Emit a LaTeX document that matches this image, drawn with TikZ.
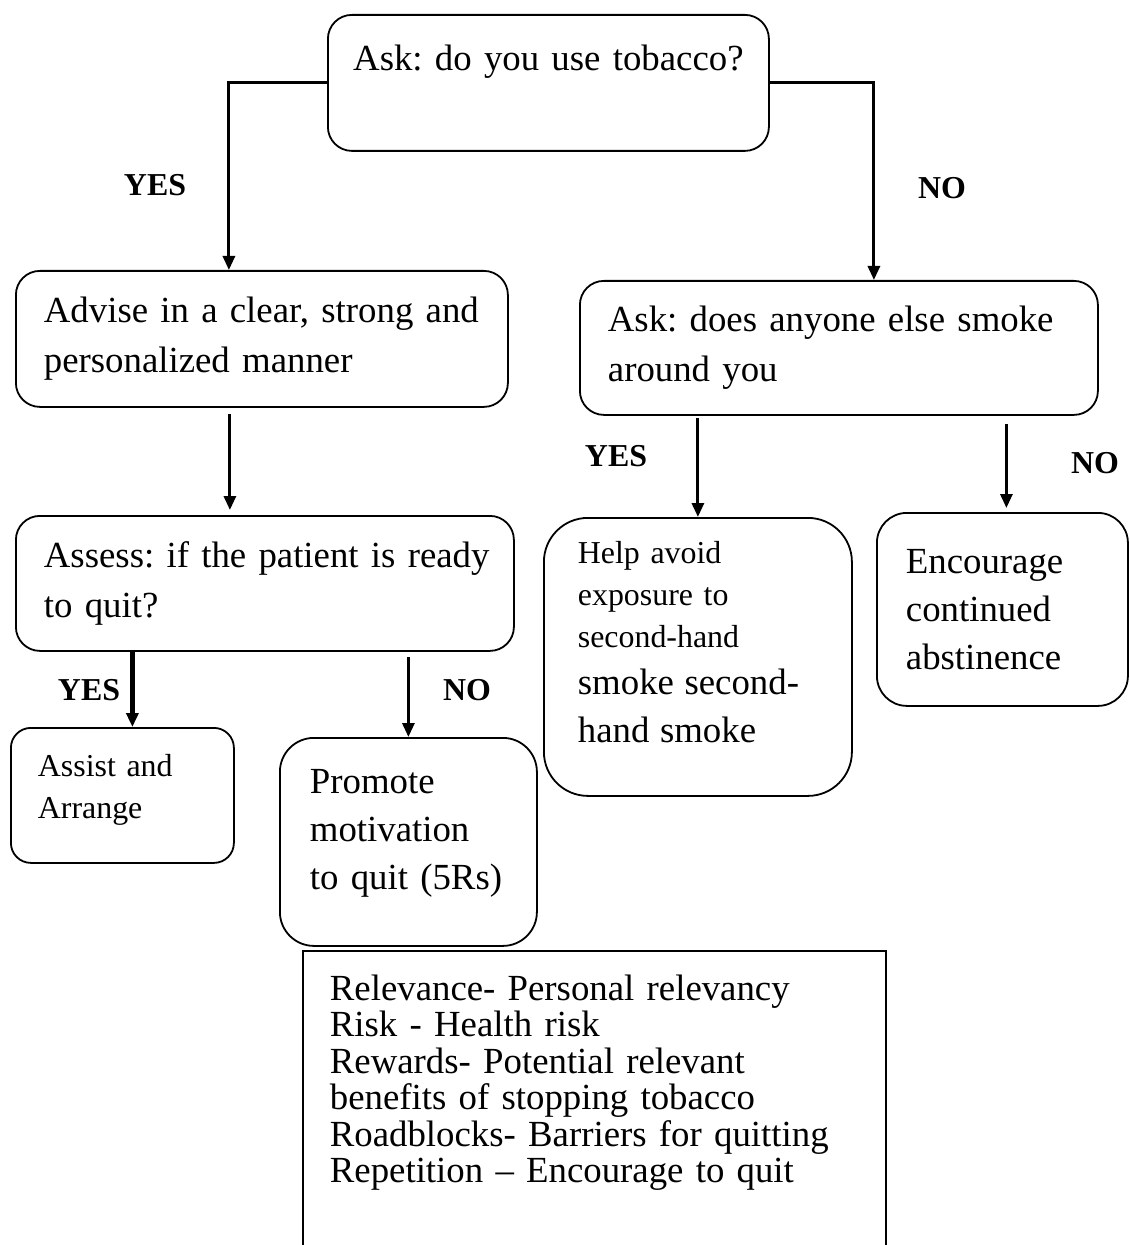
\documentclass[tikz,border=0pt]{standalone}
\usepackage{fontspec}
\setmainfont{Liberation Serif}
\usetikzlibrary{arrows.meta}

\newcommand{\bigtext}{\fontsize{18.4pt}{25pt}\selectfont\frenchspacing}
\newcommand{\midtext}{\fontsize{18.4pt}{24pt}\selectfont\frenchspacing}
\newcommand{\smalltext}{\fontsize{15.95pt}{21pt}\selectfont\frenchspacing}
\newcommand{\listtext}{\fontsize{18.4pt}{18.25pt}\selectfont\frenchspacing\lineskiplimit=-5pt\relax}

\begin{document}
\begin{tikzpicture}[
    x=0.5pt, y=-0.5pt,
    >={Triangle[length=7pt, width=6pt]},
    arrow/.style={->, line width=1.5pt},
    inset/.style={execute at begin node={\parindent=0pt\leftskip=#1\rightskip=0pt plus 1fil\relax}},
    flowbox/.style={rectangle, draw=black, line width=0.9pt, rounded corners=12pt, anchor=north west, inner xsep=0pt, inner ysep=0pt, font=\bigtext},
    smallbox/.style={flowbox, font=\smalltext},
    answer/.style={font=\smalltext\bfseries, inner sep=0pt}
]
\useasboundingbox (0,0) rectangle (1129,1245);

% Nodes
\node (ask) [flowbox, align=center, minimum height=68pt, text width=220.5pt] at (327,14) {Ask: do you use tobacco?\\ \mbox{}};
\node (advise) [flowbox, inset=14pt, minimum height=68pt, text width=246pt] at (15,270) {Advise in a clear, strong and\\personalized manner};
\node (askelse) [flowbox, inset=14pt, minimum height=67pt, text width=259pt] at (579,280) {Ask: does anyone else smoke\\around you};
\node (assess) [flowbox, inset=14pt, minimum height=67.5pt, text width=249pt] at (15,515) {Assess: if the patient is ready\\to quit?};
\node (assist) [smallbox, inset=13.5pt, rounded corners=10pt, minimum height=67.5pt, text width=111.5pt] at (10,727) {Assist and\\Arrange\\[-12pt]\mbox{}};
\node (promote) [flowbox, inset=15pt, rounded corners=17pt, minimum height=104pt, text width=128.5pt, font=\midtext] at (279,737) {Promote\\motivation\\to quit (5Rs)\\[-12pt]\mbox{}};
\node (helpavoid) [smallbox, inset=17pt, rounded corners=22pt, minimum height=139pt, text width=154pt] at (543,517) {Help avoid\\exposure to\\second-hand\\[2.5pt]{\bigtext smoke second-}\\[3pt]{\bigtext hand smoke}\\[-6pt]\mbox{}};
\node (encourage) [flowbox, inset=14.5pt, rounded corners=15pt, minimum height=96.5pt, text width=125.5pt, font=\midtext] at (876,512) {Encourage\\continued\\abstinence};
\node (fivers) [flowbox, inset=13.5pt, sharp corners, inner ysep=12pt, text width=291.5pt, font=\listtext] at (302,950) {Relevance- Personal relevancy\\Risk - Health risk\\Rewards- Potential relevant\\benefits of stopping tobacco\\Roadblocks- Barriers for quitting\\Repetition -- Encourage to quit\\[12pt] \mbox{}};

% Answers
\node (yesuser) [answer] at (155,185) {YES};
\node (nouser) [answer] at (942,188) {NO};
\node (yesready) [answer] at (89,690) {YES};
\node (noready) [answer] at (467,690) {NO};
\node (yessmoke) [answer] at (616,456) {YES};
\node (nosmoke) [answer] at (1095,463) {NO};

% Arrows
\draw [arrow] (ask.west) -| ([xshift=-16.5pt]advise.north);
\draw [arrow] (ask.east) -| ([xshift=17.5pt]askelse.north);
\draw [arrow] ([xshift=-16pt, yshift=-3pt]advise.south) -- ([xshift=-16pt, yshift=2.5pt]advise.south |- assess.north);
\draw [arrow, line width=2.4pt] ([xshift=5pt]assist.north |- assess.south) -- ([xshift=5pt]assist.north);
\draw [arrow] ([yshift=-2.5pt]promote.north |- assess.south) -- (promote.north);
\draw [arrow] ([yshift=-1pt]helpavoid.north |- askelse.south) -- (helpavoid.north);
\draw [arrow] ([xshift=2pt, yshift=-4pt]encourage.north |- askelse.south) -- ([xshift=2pt, yshift=2pt]encourage.north);
\end{tikzpicture}
\end{document}
